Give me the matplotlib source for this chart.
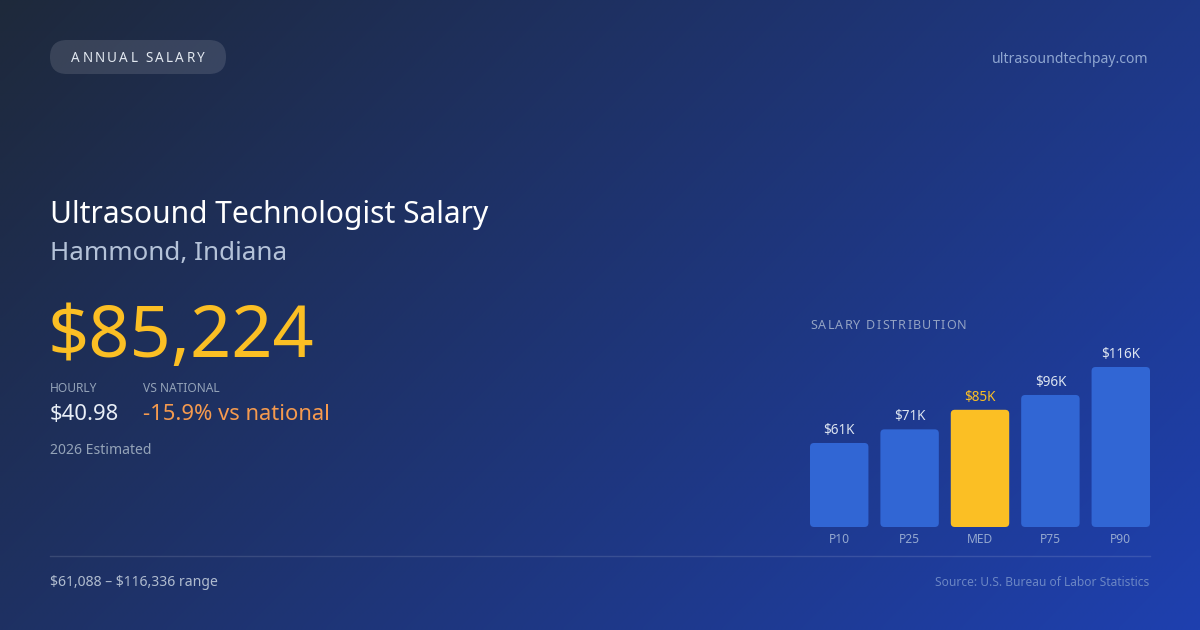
import matplotlib
matplotlib.use("Agg")
import matplotlib.pyplot as plt
import numpy as np
from matplotlib.patches import FancyBboxPatch
from matplotlib.colors import to_rgb

plt.rcParams['font.family'] = ['Noto Sans', 'DejaVu Sans']

# data
categories = ['P10', 'P25', 'MED', 'P75', 'P90']
salaries = [61088, 71000, 85224, 96000, 116336]
bar_labels = ['$61K', '$71K', '$85K', '$96K', '$116K']
highlight = 'MED'

W, H = 1200, 630
PT = 0.72  # points per pixel at dpi 100

fig = plt.figure(figsize=(12, 6.3), dpi=100)

# background gradient (135deg)
bg = fig.add_axes([0, 0, 1, 1])
bg.set_xlim(0, W)
bg.set_ylim(H, 0)
bg.axis('off')
xx, yy = np.meshgrid(np.linspace(0, 1, 300), np.linspace(0, 1, 160))
t = ((xx * W + yy * H) / (W + H))[..., None]
c0 = np.array(to_rgb('#1e293b'))
c1 = np.array(to_rgb('#1e40af'))
img = c0 + (c1 - c0) * t
bg.imshow(img, extent=[0, W, H, 0], aspect='auto', zorder=0, interpolation='bilinear')

renderer = fig.canvas.get_renderer()


def spaced_text(x, y, s, size, color, spacing, ha='left'):
    # draw text char by char with letter spacing (pixels)
    widths = []
    for ch in s:
        tt = bg.text(0, 0, ch, fontsize=size)
        widths.append(tt.get_window_extent(renderer).width)
        tt.remove()
    total = sum(widths) + spacing * (len(s) - 1)
    if ha == 'center':
        x = x - total / 2
    for ch, w in zip(s, widths):
        bg.text(x, y, ch, fontsize=size, color=color, va='baseline', ha='left', zorder=3)
        x += w + spacing


# badge
pill = FancyBboxPatch((50, 40), 176, 34, boxstyle='round,pad=0,rounding_size=17',
                      fc=(1, 1, 1, 0.12), ec='none', zorder=2)
bg.add_patch(pill)
spaced_text(138, 62, 'ANNUAL SALARY', 13.5 * PT, '#e2e8f0', 2.3, ha='center')

bg.text(1148, 63, 'ultrasoundtechpay.com', fontsize=14 * PT, color='#8fa6d1',
        ha='right', va='baseline', zorder=3)

# headline text
bg.text(50, 223, 'Ultrasound Technologist Salary', fontsize=30 * PT, color='white',
        va='baseline', zorder=3)
bg.text(50, 260, 'Hammond, Indiana', fontsize=26 * PT, color='#b4c2d8',
        va='baseline', zorder=3)
bg.text(48, 357, '$85,224', fontsize=72 * PT, color='#fbbf24',
        va='baseline', zorder=3)

bg.text(50, 392, 'HOURLY', fontsize=12 * PT, color='#94a3b8', va='baseline', zorder=3)
bg.text(143, 392, 'VS NATIONAL', fontsize=12 * PT, color='#94a3b8', va='baseline', zorder=3)
bg.text(50, 420, '$40.98', fontsize=22 * PT, color='#e8eef6', va='baseline', zorder=3)
bg.text(143, 420, '-15.9% vs national', fontsize=22 * PT, color='#f59a4e',
        va='baseline', zorder=3)
bg.text(50, 454, '2026 Estimated', fontsize=14 * PT, color='#94a3b8', va='baseline', zorder=3)

# footer
bg.plot([50, 1150], [556, 556], color=(1, 1, 1, 0.12), lw=1, zorder=2)
bg.text(50, 586, '\\$61,088 \u2013 \\$116,336 range', fontsize=14 * PT, color='#b0bccf',
        va='baseline', zorder=3)
bg.text(1149, 586, 'Source: U.S. Bureau of Labor Statistics', fontsize=12 * PT,
        color='#6b86c4', ha='right', va='baseline', zorder=3)

# salary distribution chart
spaced_text(810, 329, 'SALARY DISTRIBUTION', 12.5 * PT, '#94a3c4', 1.2)

ax_h = 200
ymax = max(salaries) * ax_h / 160
ax = fig.add_axes([810 / W, (H - 527) / H, 340 / W, ax_h / H])
ax.set_xlim(-0.415, len(categories) - 1 + 0.415)
ax.set_ylim(0, ymax)
ax.axis('off')
ax.patch.set_alpha(0)

bars = ax.bar(range(len(categories)), salaries, width=0.83)
x_upp = (ax.get_xlim()[1] - ax.get_xlim()[0]) / 340
y_upp = ymax / ax_h
r = 4 * x_upp
for b, cat, lab in zip(bars, categories, bar_labels):
    col = '#fbbf24' if cat == highlight else '#3166d4'
    rp = FancyBboxPatch((b.get_x(), b.get_y()), b.get_width(), b.get_height(),
                        boxstyle=f'round,pad=0,rounding_size={r}',
                        mutation_aspect=y_upp / x_upp, fc=col, ec='none')
    ax.add_patch(rp)
    b.remove()
    cx = b.get_x() + b.get_width() / 2
    ax.annotate(lab, (cx, b.get_height()), xytext=(0, 9 * PT), textcoords='offset points',
                ha='center', va='baseline', fontsize=13.5 * PT,
                color='#fbbf24' if cat == highlight else '#dce4f0')
    ax.annotate(cat, (cx, 0), xytext=(0, -16 * PT), textcoords='offset points',
                ha='center', va='baseline', fontsize=12 * PT, color='#94a8d0')

fig.savefig('out.png', dpi=100)
